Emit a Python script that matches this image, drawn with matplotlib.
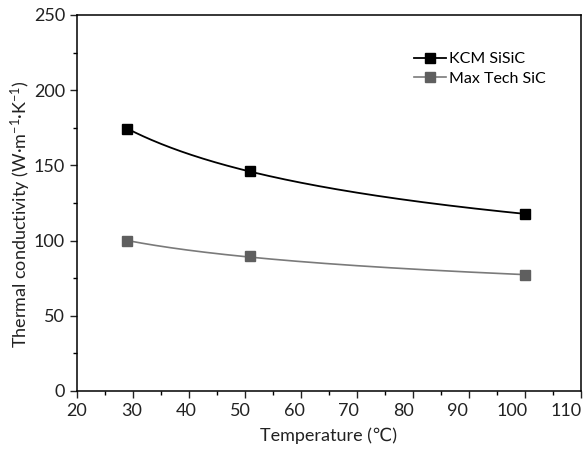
import numpy as np
import matplotlib
matplotlib.use("Agg")
import matplotlib.pyplot as plt
import matplotlib.transforms as mtransforms
from matplotlib.ticker import MultipleLocator

plt.rcParams['font.family'] = ['Lato', 'DejaVu Sans']
plt.rcParams['mathtext.fontset'] = 'custom'
plt.rcParams['mathtext.rm'] = 'Lato'
plt.rcParams['mathtext.it'] = 'Lato:italic'

temperature = [29, 51, 100]
kcm_sisic = [174, 146.5, 117.5]
maxtech_sic = [99.5, 89.8, 77]

fig = plt.figure(figsize=(5.87, 4.54), dpi=100)
ax = fig.add_axes([0.131, 0.139, 0.858, 0.828])

# smooth power-law fit through the measured points
xs = np.linspace(min(temperature), max(temperature), 200)
for vals, mcol, lcol, lw, label in [
        (kcm_sisic, "black", "black", 1.3, "KCM SiSiC"),
        (maxtech_sic, "#5f5f5f", "#7a7a7a", 1.2, "Max Tech SiC")]:
    coef = np.polyfit(np.log(temperature), np.log(vals), 1)
    ax.plot(xs, np.exp(np.polyval(coef, np.log(xs))), color=lcol, lw=lw)
    ax.plot(temperature, vals, ls="none", marker="s", ms=7.5,
            color=mcol, mec=mcol)
    ax.plot([], [], color=lcol, lw=lw, marker="s", ms=7.5,
            mfc=mcol, mec=mcol, label=label)

ax.set_xlim(20, 110)
ax.set_ylim(0, 250)
ax.xaxis.set_major_locator(MultipleLocator(10))
ax.xaxis.set_minor_locator(MultipleLocator(5))
ax.yaxis.set_major_locator(MultipleLocator(50))
ax.yaxis.set_minor_locator(MultipleLocator(25))
ax.tick_params(which="major", direction="out", length=5, width=1,
               labelsize=13, colors="#222222")
ax.tick_params(which="minor", direction="out", length=3, width=1)
for s in ax.spines.values():
    s.set_linewidth(1.1)

ax.set_xlabel("Temperature (℃)", fontsize=13, color="#222222", labelpad=6)
ax.set_ylabel("Thermal conductivity (W·m$^{-1}$·K$^{-1}$)", fontsize=13,
              color="#222222", labelpad=4)
ax.yaxis.set_label_coords(-0.088, 0.47)

leg = ax.legend(loc="upper right", bbox_to_anchor=(0.96, 0.94), frameon=False,
                fontsize=11.5, handlelength=2.0, handletextpad=0.2,
                labelspacing=0.35)

# x tick labels sit slightly left of their ticks in the original
fig.canvas.draw()
for tick in ax.xaxis.get_major_ticks():
    x = tick.get_loc()
    shift = -(x - 20) / 90 * 14 / 100
    off = mtransforms.ScaledTranslation(shift, 0, fig.dpi_scale_trans)
    tick.label1.set_transform(tick.label1.get_transform() + off)

fig.savefig("out.png", dpi=100)
